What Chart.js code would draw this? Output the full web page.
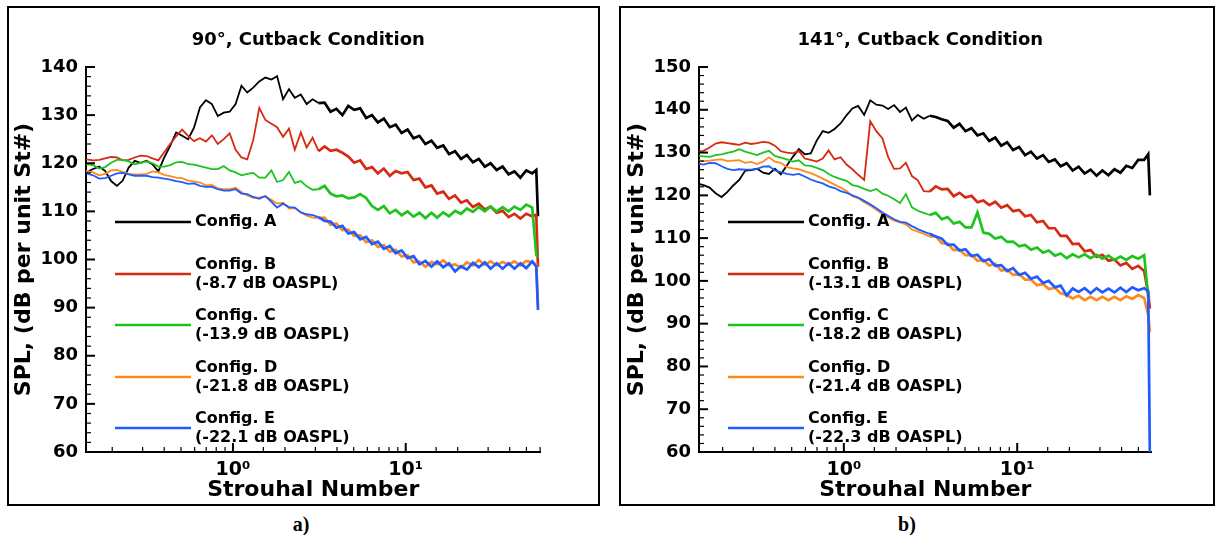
<!DOCTYPE html>
<html>
<head>
<meta charset="utf-8">
<title>Cutback condition spectra</title>
<script src="https://cdn.jsdelivr.net/npm/chart.js@4.4.1/dist/chart.umd.min.js"></script>
<style>
  html, body { margin: 0; padding: 0; background: #fff; }
  body { width: 1221px; height: 535px; position: relative; overflow: hidden; }
  .frame { position: absolute; box-sizing: border-box; border: 2px solid #000; }
  .cap { position: absolute; font: bold 20px "Liberation Serif", serif; transform: translate(-50%, -50%); }
  canvas { position: absolute; left: 0; top: 0; }
</style>
</head>
<body>
<div class="frame" style="left:7px;top:6px;width:593px;height:500px"></div>
<div class="frame" style="left:619px;top:6px;width:596px;height:500px"></div>
<div class="cap" style="left:301px;top:524px">a)</div>
<div class="cap" style="left:907px;top:524px">b)</div>
<canvas id="c90" width="1221" height="535"></canvas>
<canvas id="c141" width="1221" height="535"></canvas>
<script>
// shared Strouhal grid (x values) for every spectrum
const strouhal = [0.141, 0.155, 0.168, 0.182, 0.197, 0.213, 0.230, 0.249, 0.270, 0.292,
  0.316, 0.342, 0.370, 0.400, 0.433, 0.469, 0.508, 0.550, 0.595, 0.644,
  0.697, 0.755, 0.817, 0.884, 0.957, 1.036, 1.12, 1.21, 1.31, 1.42,
  1.54, 1.67, 1.80, 1.95, 2.11, 2.28, 2.47, 2.67, 2.89, 3.13,
  3.39, 3.67, 3.97, 4.30, 4.65, 5.03, 5.45, 5.90, 6.38, 6.90,
  7.47, 8.09, 8.75, 9.47, 10.25, 11.1, 12.0, 13.0, 14.1, 15.2,
  16.5, 17.8, 19.3, 20.9, 22.6, 24.5, 26.5, 28.7, 31.0, 33.6,
  36.4, 39.4, 42.6, 46.1, 49.9, 54.0, 57.0, 58.3];

// a) 90 deg
const spl90A = [118.1, 118.8, 119.3, 118.4, 116.3, 115.3, 116.4, 119.1, 120.5, 120.1,
  120.5, 119.8, 118.3, 121.2, 123.6, 126.4, 125.7, 125.0, 127.4, 131.6,
  133.1, 132.3, 129.8, 130.5, 130.7, 132.3, 136.1, 134.7, 135.7, 137.0,
  137.8, 137.4, 138.1, 133.3, 135.4, 133.6, 134.3, 132.3, 133.3, 132.5,
  132.6, 130.7, 131.3, 130.0, 131.9, 131.1, 131.4, 129.4, 130.0, 128.5,
  129.3, 127.5, 128.0, 126.3, 127.0, 125.2, 125.7, 124.0, 124.7, 123.2,
  123.7, 121.9, 122.5, 120.9, 121.7, 120.2, 120.9, 119.3, 120.0, 118.6,
  119.3, 117.7, 118.3, 117.0, 118.5, 117.9, 118.6, 109.0];
const spl90B = [120.8, 120.6, 120.7, 121.0, 121.3, 121.2, 120.6, 120.7, 121.2, 121.6,
  121.5, 121.0, 120.6, 122.3, 124.0, 125.6, 127.0, 125.7, 124.6, 125.2,
  124.5, 125.8, 124.0, 125.0, 126.2, 122.8, 121.2, 120.8, 124.8, 131.5,
  129.0, 128.2, 127.5, 125.5, 127.2, 122.8, 126.4, 123.3, 125.3, 122.5,
  123.5, 122.6, 122.8, 122.2, 121.4, 120.1, 120.6, 118.8, 119.2, 117.9,
  118.9, 117.4, 118.4, 117.9, 118.2, 116.5, 116.8, 115.0, 115.4, 113.7,
  114.1, 112.6, 113.3, 111.8, 112.3, 110.9, 111.6, 110.4, 111.0, 109.7,
  110.1, 108.8, 109.5, 108.5, 109.5, 109.0, 109.3, 98.5];
const spl90C = [119.8, 119.6, 118.9, 119.2, 120.1, 120.7, 120.7, 120.4, 119.8, 120.1,
  120.4, 120.0, 119.3, 119.3, 119.6, 120.2, 120.3, 119.8, 119.7, 119.4,
  119.1, 118.8, 118.8, 119.4, 118.5, 118.1, 117.5, 117.8, 118.0, 117.0,
  117.0, 118.5, 116.1, 116.5, 118.2, 115.9, 116.3, 115.2, 114.5, 114.6,
  115.3, 113.7, 113.1, 113.3, 112.7, 112.9, 113.6, 112.8, 111.1, 110.3,
  111.1, 109.6, 110.3, 109.2, 110.0, 108.9, 109.7, 108.6, 109.7, 108.7,
  109.8, 109.0, 110.1, 109.5, 110.6, 109.9, 110.9, 110.0, 111.0, 110.0,
  110.9, 110.0, 111.0, 110.3, 111.4, 110.8, 101.0, 100.5];
const spl90D = [118.4, 118.1, 117.5, 117.8, 118.5, 118.6, 118.2, 117.8, 117.7, 117.7,
  117.8, 118.3, 118.1, 117.6, 117.3, 117.0, 116.9, 116.4, 116.2, 116.0,
  115.4, 115.5, 114.8, 114.6, 114.6, 114.9, 114.0, 113.3, 112.8, 112.9,
  113.1, 112.4, 111.6, 111.8, 110.6, 110.7, 109.8, 109.1, 108.7, 108.6,
  108.7, 107.2, 107.5, 106.1, 106.2, 104.9, 105.0, 103.6, 104.0, 102.6,
  103.0, 101.6, 102.0, 100.6, 100.9, 99.4, 99.6, 98.5, 99.5, 99.0,
  99.8, 98.8, 99.0, 98.3, 99.4, 98.8, 99.9, 98.9, 99.6, 98.8,
  99.5, 98.9, 99.6, 98.8, 99.7, 99.4, 99.0, 90.5];
const spl90E = [117.9, 117.5, 116.8, 116.9, 117.4, 117.9, 118.0, 117.7, 117.4, 117.4,
  117.4, 117.1, 117.0, 116.8, 116.6, 116.3, 116.1, 115.7, 115.8, 115.3,
  115.1, 115.1, 114.6, 114.3, 114.3, 114.6, 113.7, 113.6, 113.0, 112.6,
  113.2, 112.0, 110.8, 111.6, 110.9, 110.8, 109.8, 109.4, 109.2, 108.8,
  108.0, 107.9, 106.6, 107.0, 105.4, 105.7, 104.2, 104.7, 103.2, 103.7,
  102.2, 102.8, 101.3, 101.9, 100.3, 100.7, 99.0, 99.7, 98.5, 99.6,
  98.4, 99.2, 97.5, 98.6, 97.9, 99.3, 98.4, 99.4, 98.1, 99.2,
  98.1, 99.2, 98.1, 99.2, 98.2, 99.6, 98.5, 89.5];

// b) 141 deg
const spl141A = [122.8, 122.4, 121.8, 120.5, 119.6, 120.8, 122.3, 123.6, 125.8, 125.9,
  126.2, 125.3, 125.0, 126.2, 124.9, 127.0, 129.0, 130.8, 129.6, 129.8,
  132.8, 135.0, 134.6, 135.5, 136.8, 138.7, 140.3, 140.9, 138.8, 142.2,
  141.2, 141.0, 140.2, 141.1, 139.5, 140.5, 137.5, 138.8, 137.9, 138.6,
  138.3, 137.8, 137.4, 135.8, 136.7, 135.0, 135.7, 134.0, 134.5, 132.7,
  133.5, 131.6, 132.4, 130.6, 131.3, 129.4, 130.2, 128.6, 129.4, 127.8,
  128.4, 126.8, 127.5, 125.8, 126.7, 125.1, 126.0, 124.6, 125.8, 124.7,
  126.1, 125.3, 126.9, 126.4, 128.3, 128.3, 129.6, 120.0];
const spl141B = [130.3, 130.4, 131.2, 132.1, 132.4, 132.2, 132.0, 131.8, 132.3, 132.0,
  132.2, 132.5, 132.3, 131.6, 130.3, 130.0, 129.8, 130.4, 128.6, 128.3,
  127.9, 128.6, 130.5, 128.4, 128.9, 127.2, 126.1, 124.8, 123.6, 137.3,
  135.0, 133.3, 129.0, 126.2, 126.3, 127.6, 124.5, 123.5, 121.0, 120.9,
  122.1, 121.4, 121.5, 119.8, 120.6, 119.5, 119.9, 118.4, 118.8, 117.7,
  118.5, 117.1, 117.7, 116.3, 116.6, 115.1, 115.4, 113.7, 114.0, 112.3,
  112.3, 110.5, 110.5, 108.6, 108.7, 106.9, 107.2, 105.6, 106.1, 104.7,
  105.0, 103.6, 104.2, 102.8, 103.5, 102.3, 97.0, 93.5];
const spl141C = [129.2, 129.1, 129.0, 129.4, 129.6, 129.9, 130.2, 130.8, 130.2, 129.8,
  129.4, 130.0, 130.4, 129.2, 128.8, 128.4, 127.9, 128.2, 127.0, 126.9,
  126.4, 125.9, 125.0, 124.3, 123.8, 123.4, 122.4, 122.1, 121.5, 121.0,
  121.5, 120.4, 119.9, 119.1, 118.2, 120.3, 117.2, 116.4, 115.9, 115.4,
  115.9, 114.4, 114.9, 113.4, 113.8, 112.5, 112.5, 116.0, 111.3, 111.0,
  109.9, 110.3, 109.1, 109.2, 108.1, 108.4, 107.3, 107.8, 106.6, 107.1,
  105.9, 106.4, 105.3, 106.2, 105.5, 106.2, 105.3, 106.1, 105.2, 105.9,
  104.9, 105.7, 104.9, 105.8, 105.2, 106.0, 96.3, 96.0];
const spl141D = [128.3, 128.0, 128.1, 128.3, 128.4, 128.0, 128.1, 128.2, 127.6, 127.8,
  127.3, 127.9, 128.9, 127.9, 127.6, 126.6, 126.3, 126.1, 125.6, 125.2,
  124.6, 123.9, 123.2, 122.5, 121.8, 121.0, 119.8, 119.3, 118.4, 117.6,
  116.6, 115.6, 114.8, 114.1, 113.7, 113.2, 112.0, 111.5, 111.0, 110.4,
  110.4, 108.8, 108.7, 107.2, 107.3, 106.0, 106.1, 104.7, 104.9, 103.6,
  104.0, 102.4, 102.6, 101.4, 101.6, 100.3, 100.3, 99.0, 99.3, 98.1,
  98.4, 97.1, 96.7, 95.9, 96.5, 95.5, 96.3, 95.5, 96.3, 95.5,
  96.3, 95.5, 96.4, 95.8, 96.7, 96.0, 92.0, 88.0];
const spl141E = [127.5, 127.2, 127.6, 127.5, 126.8, 126.2, 125.9, 126.1, 126.0, 126.0,
  126.2, 126.7, 126.8, 125.8, 125.4, 125.0, 124.8, 125.0, 124.4, 123.7,
  123.2, 122.8, 122.1, 121.7, 121.0, 120.6, 120.0, 119.5, 118.7, 117.9,
  117.0, 116.0, 115.2, 114.4, 113.8, 113.6, 112.8, 112.1, 111.5, 111.0,
  110.4, 109.9, 108.4, 108.5, 107.1, 107.4, 105.8, 106.1, 104.6, 105.1,
  103.5, 103.7, 102.3, 103.0, 101.4, 101.9, 100.5, 101.0, 99.5, 100.0,
  98.5, 98.9, 96.6, 98.2, 97.4, 98.3, 97.1, 98.3, 97.3, 98.2,
  97.3, 98.4, 97.4, 98.5, 97.8, 98.3, 97.6, 58.0];

const configNames = ['Config. A', 'Config. B', 'Config. C', 'Config. D', 'Config. E'];
const oaspl90 = ['', '(-8.7 dB OASPL)', '(-13.9 dB OASPL)', '(-21.8 dB OASPL)', '(-22.1 dB OASPL)'];
const oaspl141 = ['', '(-13.1 dB OASPL)', '(-18.2 dB OASPL)', '(-21.4 dB OASPL)', '(-22.3 dB OASPL)'];
const seriesColors = ['#000000', '#d62a12', '#1ec41e', '#ff8a1c', '#1f5bff'];
const decadeTicks = [1, 10];
const decadeLabels = ['10\u2070', '10\u00b9'];

const FONT = '"DejaVu Sans", "Liberation Sans", sans-serif';

// inward tick marks, panel title and the in-plot legend
const decor = {
  id: 'decor',
  afterDraw(chart, args, o) {
    const {ctx, chartArea: a, scales: {x, y}} = chart;
    ctx.save();
    ctx.strokeStyle = '#000';
    x.ticks.forEach(t => {
      if (t.value <= x.min || t.value >= x.max) return;
      const px = x.getPixelForValue(t.value);
      const major = decadeTicks.some(d => Math.abs(d - t.value) < 1e-9);
      ctx.lineWidth = major ? 2 : 1.2;
      ctx.beginPath(); ctx.moveTo(px, a.bottom); ctx.lineTo(px, a.bottom - (major ? 9 : 5)); ctx.stroke();
    });
    y.ticks.forEach(t => {
      if (t.value <= y.min) return;
      const py = y.getPixelForValue(t.value);
      const major = t.value % 10 === 0;
      ctx.lineWidth = major ? 2 : 1.2;
      ctx.beginPath(); ctx.moveTo(a.left, py); ctx.lineTo(a.left + (major ? 9 : 5), py); ctx.stroke();
    });

    ctx.fillStyle = '#000';
    ctx.font = 'bold 18px ' + FONT;
    ctx.textAlign = 'center';
    ctx.textBaseline = 'middle';
    ctx.fillText(o.title, (a.left + a.right) / 2 - 5, 40);

    ctx.font = 'bold 16px ' + FONT;
    ctx.textAlign = 'left';
    chart.data.datasets.forEach((ds, i) => {
      const ly = o.legendY[i];
      ctx.strokeStyle = ds.borderColor;
      ctx.lineWidth = 2.5;
      ctx.beginPath(); ctx.moveTo(a.left + 29, ly); ctx.lineTo(a.left + 105, ly); ctx.stroke();
      if (o.notes[i]) {
        ctx.fillText(configNames[i], a.left + 109, ly - 9.5);
        ctx.fillText(o.notes[i], a.left + 109, ly + 9.5);
      } else {
        ctx.fillText(configNames[i], a.left + 109, ly);
      }
    });
    ctx.restore();
  }
};

function makePanel(id, series, p) {
  return new Chart(document.getElementById(id), {
    type: 'line',
    data: {
      datasets: series.map((vals, i) => ({
        label: configNames[i],
        data: vals.map((v, k) => ({x: strouhal[k], y: v})),
        borderColor: seriesColors[i],
        borderWidth: 1.8,
        // the measured spectra get a dense, noisy band at high St
        segment: { borderWidth: c => (c.p0.parsed.x >= 3 ? 2.7 : 1.8) },
        pointRadius: 0,
        tension: 0,
        order: series.length - 1 - i
      }))
    },
    options: {
      responsive: false,
      animation: false,
      events: [],
      layout: { padding: { left: p.padLeft, right: p.padRight, top: 67, bottom: 30 } },
      scales: {
        x: {
          type: 'logarithmic', position: 'bottom', min: p.xMin, max: p.xMax,
          grid: { display: false, drawTicks: false },
          border: { display: true, color: '#000', width: 2 },
          ticks: {
            autoSkip: false, maxRotation: 0, padding: 7, color: '#000',
            font: { family: FONT, weight: 'bold', size: 19 },
            callback: v => {
              const k = decadeTicks.findIndex(d => Math.abs(d - v) < 1e-9);
              return k >= 0 ? decadeLabels[k] : '';
            }
          },
          title: { display: true, text: 'Strouhal Number', color: '#000',
            font: { family: FONT, weight: 'bold', size: 22 }, padding: { top: 0, bottom: 2 } },
          afterFit: s => { s.height = 53; }
        },
        y: {
          type: 'linear', position: 'left', min: 60, max: p.yMax,
          grid: { display: false, drawTicks: false },
          border: { display: true, color: '#000', width: 2 },
          ticks: {
            stepSize: 2, autoSkip: false, padding: 8, color: '#000',
            font: { family: FONT, weight: 'bold', size: 18 },
            callback: v => (v % 10 === 0 ? String(v) : '')
          },
          title: { display: true, text: 'SPL, (dB per unit St#)', color: '#000',
            font: { family: FONT, weight: 'bold', size: 22 }, padding: { top: p.yTitlePad, bottom: 0 } },
          afterFit: s => { s.width = p.yAxisWidth; }
        }
      },
      plugins: {
        legend: { display: false },
        tooltip: { enabled: false },
        decor: { title: p.title, notes: p.notes, legendY: [222, 274, 325, 377, 428] }
      }
    },
    plugins: [decor]
  });
}

makePanel('c90', [spl90A, spl90B, spl90C, spl90D, spl90E], {
  title: '90\u00b0, Cutback Condition', notes: oaspl90,
  padLeft: 0, padRight: 680.5, yAxisWidth: 86, yTitlePad: 11,
  xMin: 0.141, xMax: 60.3, yMax: 140
});
makePanel('c141', [spl141A, spl141B, spl141C, spl141D, spl141E], {
  title: '141\u00b0, Cutback Condition', notes: oaspl141,
  padLeft: 620, padRight: 69.3, yAxisWidth: 79, yTitlePad: 4,
  xMin: 0.146, xMax: 59.7, yMax: 150
});
</script>
</body>
</html>
